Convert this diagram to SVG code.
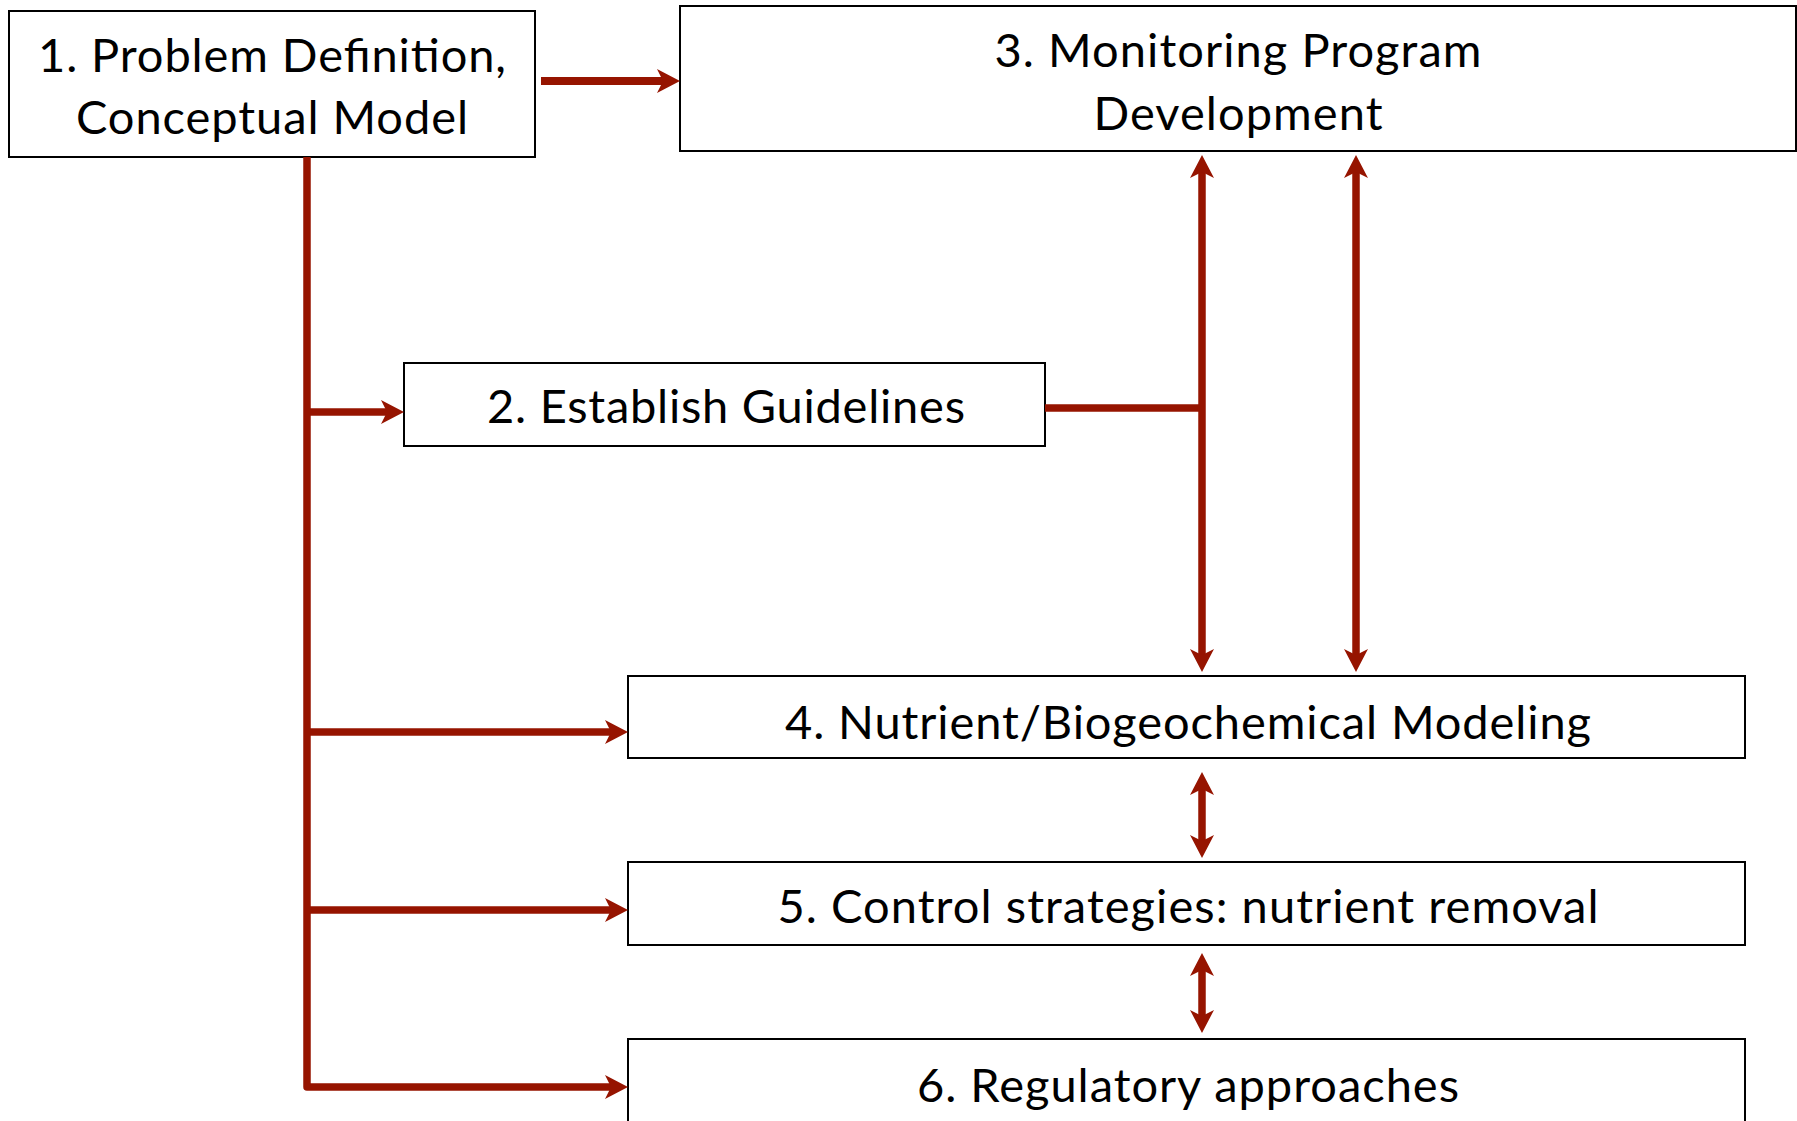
<svg xmlns="http://www.w3.org/2000/svg" width="1797" height="1121" viewBox="0 0 1797 1121">
  <style>
    .box { fill: #ffffff; stroke: #000000; stroke-width: 2; }
    .label { font-family: Lato, "Open Sans", "Liberation Sans", sans-serif; font-size: 47px; fill: #000000; text-anchor: middle; }
    .link { fill: none; stroke: #961400; stroke-width: 7.5; stroke-linejoin: round; }
  </style>
  <defs>
    <marker id="head" markerUnits="userSpaceOnUse" viewBox="-10 -13 26 26" refX="0" refY="0" markerWidth="26" markerHeight="26" orient="auto-start-reverse" overflow="visible">
      <path d="M14,0 L-9,-12 L-3,0 L-9,12 Z" fill="#961400"/>
    </marker>
  </defs>

  <rect width="1797" height="1121" fill="#ffffff"/>

  <g id="node-1">
    <rect class="box" x="9" y="11" width="526" height="146"/>
    <text class="label" x="272" y="72" textLength="468">1. Problem Definition,</text>
    <text class="label" x="272" y="134" textLength="392">Conceptual Model</text>
  </g>

  <g id="node-3">
    <rect class="box" x="680" y="6" width="1116" height="145"/>
    <text class="label" x="1238" y="67" textLength="487">3. Monitoring Program</text>
    <text class="label" x="1238" y="130" textLength="289">Development</text>
  </g>

  <g id="node-2">
    <rect class="box" x="404" y="363" width="641" height="83"/>
    <text class="label" x="726" y="423" textLength="478">2. Establish Guidelines</text>
  </g>

  <g id="node-4">
    <rect class="box" x="628" y="676" width="1117" height="82"/>
    <text class="label" x="1188" y="739" textLength="806">4. Nutrient/Biogeochemical Modeling</text>
  </g>

  <g id="node-5">
    <rect class="box" x="628" y="862" width="1117" height="83"/>
    <text class="label" x="1188" y="923" textLength="821">5. Control strategies: nutrient removal</text>
  </g>

  <g id="node-6">
    <rect class="box" x="628" y="1039" width="1117" height="100"/>
    <text class="label" x="1188" y="1102" textLength="542">6. Regulatory approaches</text>
  </g>

  <g id="connectors">
    <!-- 1 to 3 -->
    <path class="link" style="stroke-width:8" d="M541,81 L666,81" marker-end="url(#head)"/>
    <!-- trunk from 1 down to 6 -->
    <path class="link" d="M307,157 L307,1087 L614,1087" marker-end="url(#head)"/>
    <!-- branches off the trunk -->
    <path class="link" d="M307,412 L390,412" marker-end="url(#head)"/>
    <path class="link" d="M307,732 L614,732" marker-end="url(#head)"/>
    <path class="link" d="M307,910 L614,910" marker-end="url(#head)"/>
    <!-- 2 joins the 3/4 link -->
    <path class="link" d="M1045,408 L1202,408"/>
    <!-- 3 and 4, both ways -->
    <path class="link" d="M1202,169 L1202,658" marker-start="url(#head)" marker-end="url(#head)"/>
    <path class="link" d="M1356,169 L1356,658" marker-start="url(#head)" marker-end="url(#head)"/>
    <!-- 4 and 5 -->
    <path class="link" d="M1202,786 L1202,844" marker-start="url(#head)" marker-end="url(#head)"/>
    <!-- 5 and 6 -->
    <path class="link" d="M1202,967 L1202,1019" marker-start="url(#head)" marker-end="url(#head)"/>
  </g>
</svg>
